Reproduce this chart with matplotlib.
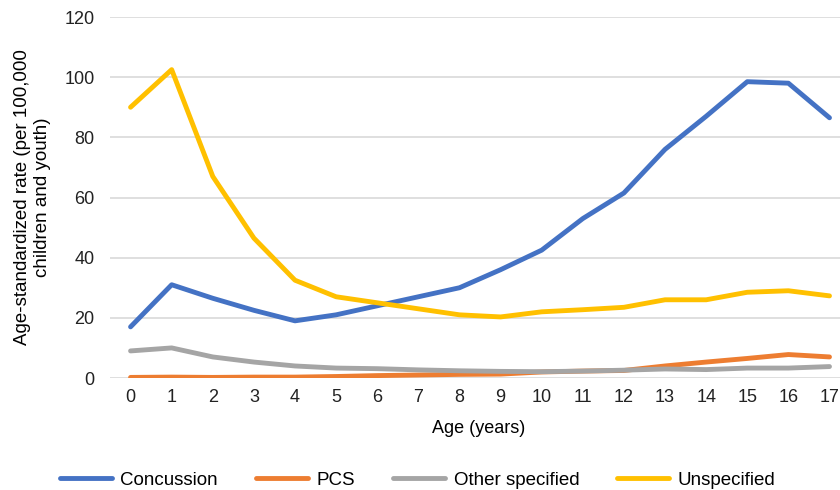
import numpy as np
import matplotlib
matplotlib.use("Agg")
import matplotlib.pyplot as plt

plt.rcParams['font.family'] = ['Liberation Sans', 'DejaVu Sans']

# data
ages = list(range(18))
concussion = [17, 31, 26.5, 22.5, 19, 21, 24, 27, 30, 36, 42.5, 53, 61.5, 76, 87, 98.5, 98, 86.5]
pcs = [0.2, 0.3, 0.2, 0.3, 0.3, 0.5, 0.8, 1.0, 1.2, 1.3, 2.0, 2.3, 2.5, 4.0, 5.3, 6.5, 7.8, 7.0]
other = [9, 10, 7, 5.3, 4, 3.3, 3.1, 2.7, 2.4, 2.2, 2.1, 2.3, 2.6, 3.0, 2.8, 3.3, 3.3, 3.8]
unspecified = [90, 102.5, 67, 46.5, 32.5, 27, 25, 23, 21, 20.3, 22, 22.7, 23.5, 26, 26, 28.5, 29, 27.3]

series = [
    ("Concussion", concussion, "#4472C4"),
    ("PCS", pcs, "#ED7D31"),
    ("Other specified", other, "#A5A5A5"),
    ("Unspecified", unspecified, "#FFC000"),
]

fig = plt.figure(figsize=(8.4, 4.9), dpi=100)
ax = fig.add_axes([110/840, 1 - 378/490, 738/840, 361/490])

for name, vals, col in series:
    ax.plot(ages, vals, color=col, lw=3.5, label=name, solid_capstyle='round')

ax.set_ylim(0, 120)
ax.set_xlim(-0.5, 17.45)
ax.set_yticks(np.arange(0, 121, 20))
ax.set_xticks(ages)
ax.grid(axis='y', color='#D9D9D9', lw=1.2)
ax.set_axisbelow(True)
for s in ax.spines.values():
    s.set_visible(False)
ax.tick_params(length=0, labelsize=13, colors='#222222')
ax.tick_params(axis='x', pad=8)
ax.tick_params(axis='y', pad=11)

ax.set_xlabel("Age (years)", fontsize=13, labelpad=10)
ax.set_ylabel("Age-standardized rate (per 100,000\nchildren and youth)", fontsize=13.5, labelpad=10)

fig.legend(loc='center', bbox_to_anchor=(0.497, 1 - 480/490), ncol=4, frameon=False,
           fontsize=13.5, handlelength=2.8, columnspacing=2.0, handletextpad=0.45)

fig.savefig("out.png", dpi=100)
